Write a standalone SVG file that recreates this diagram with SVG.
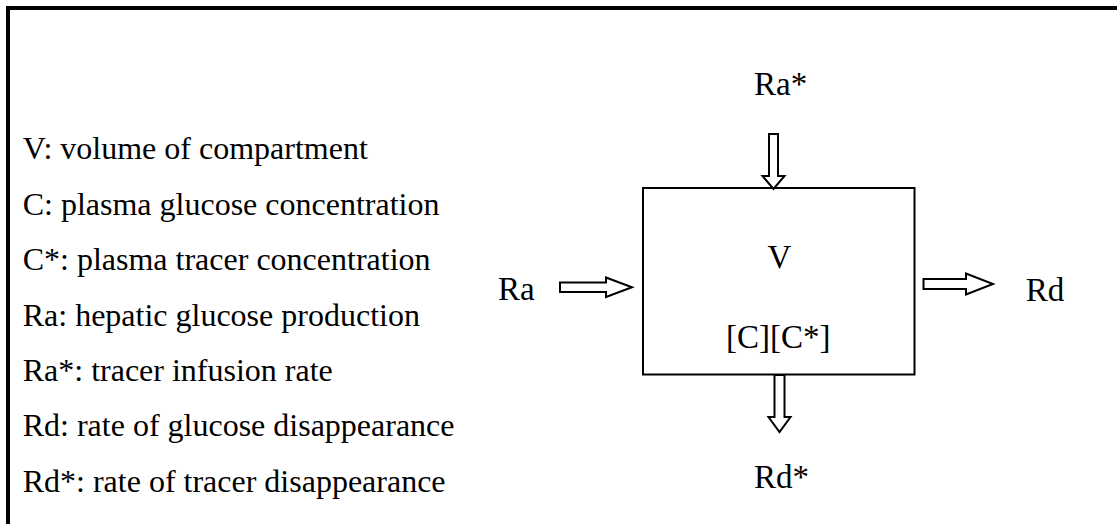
<svg xmlns="http://www.w3.org/2000/svg" width="1117" height="524" viewBox="0 0 1117 524">
  <style>
    .legend { font-family: "Liberation Serif", "Times New Roman", serif; font-size: 32px; fill: #000; }
    .lbl { font-family: "Liberation Serif", "Times New Roman", serif; font-size: 33px; fill: #000; }
    .arrow { fill: #fff; stroke: #000; stroke-width: 2; stroke-linejoin: miter; }
    .box { fill: #fff; stroke: #000; stroke-width: 2; }
  </style>
  <rect x="0" y="0" width="1117" height="524" fill="#fff"/>
  <path d="M8,524 V8 H1117" fill="none" stroke="#000" stroke-width="4"/>

  <g id="legend">
    <text class="legend" x="22.7" y="159">V: volume of compartment</text>
    <text class="legend" x="22.7" y="214.5">C: plasma glucose concentration</text>
    <text class="legend" x="22.7" y="270">C*: plasma tracer concentration</text>
    <text class="legend" x="22.7" y="325.5">Ra: hepatic glucose production</text>
    <text class="legend" x="22.7" y="381">Ra*: tracer infusion rate</text>
    <text class="legend" x="22.7" y="436">Rd: rate of glucose disappearance</text>
    <text class="legend" x="22.7" y="491.5">Rd*: rate of tracer disappearance</text>
  </g>

  <g id="compartment">
    <rect class="box" x="643" y="188" width="271.5" height="186.5"/>
    <text class="lbl" x="779.5" y="268" text-anchor="middle">V</text>
    <text class="lbl" x="778.3" y="348" text-anchor="middle">[C][C*]</text>
  </g>

  <g id="node-ra-star"><text class="lbl" x="754" y="95">Ra*</text></g>
  <g id="node-ra"><text class="lbl" x="498" y="300">Ra</text></g>
  <g id="node-rd"><text class="lbl" x="1025.7" y="301">Rd</text></g>
  <g id="node-rd-star"><text class="lbl" x="754" y="488">Rd*</text></g>

  <g id="connectors">
    <path class="arrow" d="M769,134 H778 V176 H784.5 L773.5,189 L762.5,176 H769 Z"/>
    <path class="arrow" d="M774.5,375 H784.5 V417 H790.5 L779.5,432 L768.5,417 H774.5 Z"/>
    <path class="arrow" d="M560,282.5 H606 V277.5 L632,287.3 L606,297 V292 H560 Z"/>
    <path class="arrow" d="M923.5,279 H966 V273.5 L993,284 L966,294.5 V289 H923.5 Z"/>
  </g>
</svg>
